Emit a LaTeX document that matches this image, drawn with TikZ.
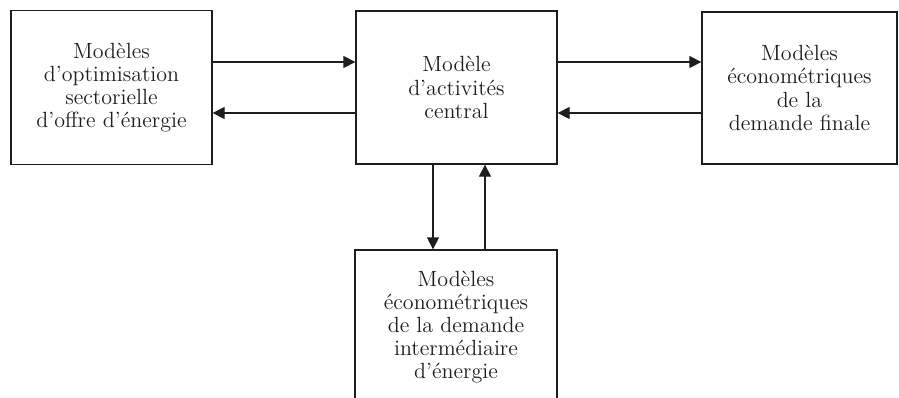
\documentclass[tikz,border=0pt]{standalone}
\usetikzlibrary{arrows.meta}
\definecolor{ink}{HTML}{1E1E1E}
\begin{document}
\begin{tikzpicture}[x=0.5pt,y=-0.5pt,
  box/.style={draw=ink, line width=0.65pt, rectangle, align=center, text=ink,
    font=\fontsize{11}{11.6}\selectfont, inner sep=0pt},
  arr/.style={draw=ink, line width=0.65pt, -{Triangle[length=6pt,width=6pt]}}]
\useasboundingbox[fill=white] (0,0) rectangle (899,397);
\node[box, minimum width=100.5pt, minimum height=76.75pt] (L) at (111.5,87.5)
  {Modèles\\d’optimisation\\sectorielle\\d’offre d’énergie};
\node[box, minimum width=100.5pt, minimum height=76.5pt] (C) at (456.5,87.5)
  {Modèle\\d’activités\\central};
\node[box, minimum width=97.5pt, minimum height=76pt] (R) at (799.5,88)
  {Modèles\\économétriques\\de la\\demande finale};
\node[box, minimum width=101pt, minimum height=77pt] (B) at (456,327)
  {Modèles\\économétriques\\de la demande\\intermédiaire\\d’énergie};
\draw[arr] ([yshift=12.75pt]L.east) -- ([yshift=12.75pt]C.west);
\draw[arr] ([yshift=-12.75pt]C.west) -- ([yshift=-12.75pt]L.east);
\draw[arr] ([yshift=12.75pt]C.east) -- ([yshift=12.75pt]C.east -| R.west);
\draw[arr] ([yshift=12.75pt]C.east -| R.west) ++(0,51) coordinate (r2) -- (r2 -| C.east);
\draw[arr] ([xshift=-11.75pt]C.south) -- ([xshift=-11.75pt]C.south |- B.north);
\draw[arr] ([xshift=14.25pt]C.south |- B.north) -- ([xshift=14.25pt]C.south);
\end{tikzpicture}
\end{document}
